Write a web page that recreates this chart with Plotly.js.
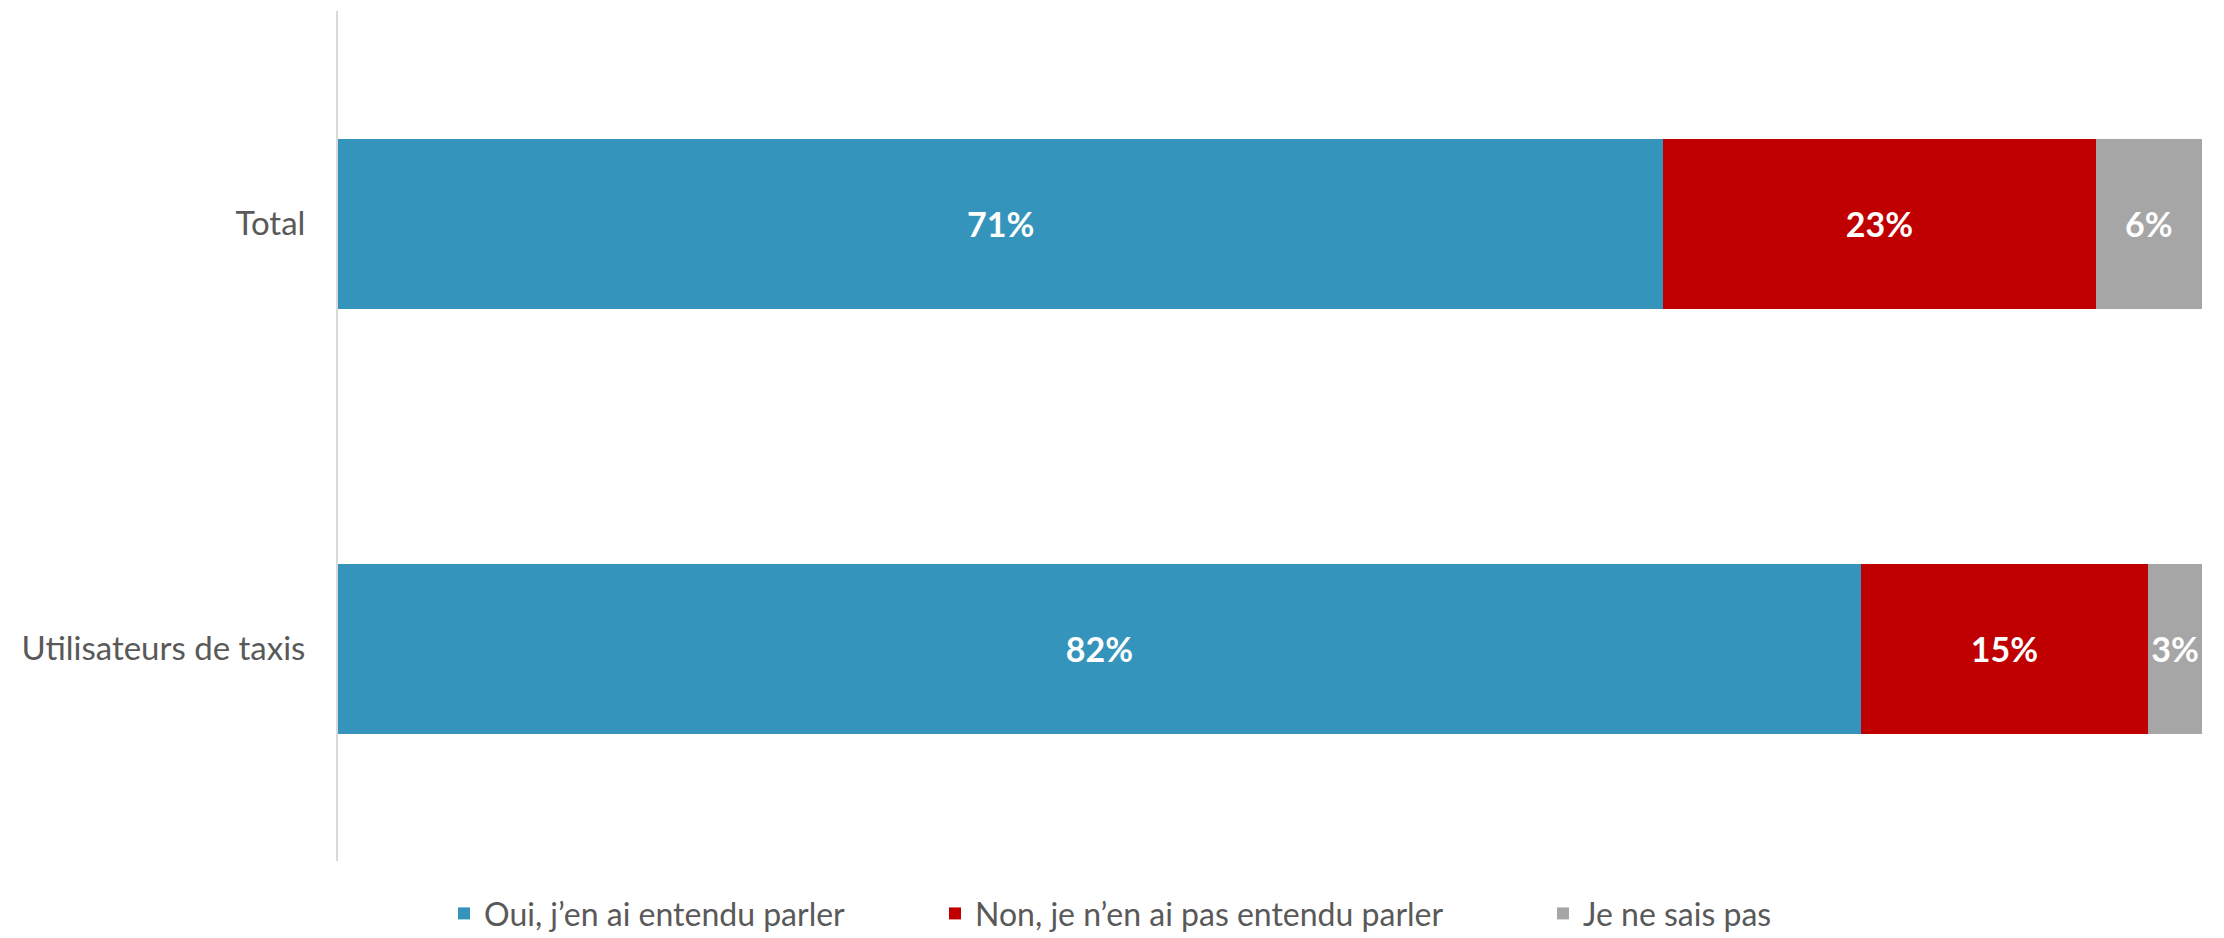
<!DOCTYPE html>
<html>
<head>
<meta charset="utf-8">
<script src="https://cdn.plot.ly/plotly-3.0.1.min.js"></script>
<style>html,body{margin:0;padding:0;background:#fff;}#chart{width:2224px;height:938px;}</style>
</head>
<body>
<div id="chart"></div>
<script>
const categories = ["Total", "Utilisateurs de taxis"];
const seriesNames = ["Oui, j\u2019en ai entendu parler", "Non, je n\u2019en ai pas entendu parler", "Je ne sais pas"];
const oui = [71.1, 81.7];
const non = [23.2, 15.4];
const nsp = [5.7, 2.9];
const colors = ["#3594BC", "#C00000", "#A6A6A6"];

const FONT = "Lato, 'Noto Sans', sans-serif";
const W = 2224, H = 938;
const legendIds = ["legend", "legend2", "legend3"];
const legendLeft = [444, 935, 1543];

const allSeries = [oui, non, nsp];
const traces = allSeries.map((vals, i) => ({
  type: "bar",
  orientation: "h",
  name: seriesNames[i],
  legend: legendIds[i],
  y: categories,
  x: vals,
  marker: {color: colors[i]},
  texttemplate: "%{x:.0f}%",
  textposition: "inside",
  insidetextanchor: "middle",
  textangle: 0,
  insidetextfont: {color: "#FFFFFF", size: 34, family: FONT, weight: "bold"},
  hoverinfo: "skip"
}));

const layout = {
  width: W,
  height: H,
  barmode: "stack",
  bargap: 0.6,
  margin: {l: 338, r: 22, t: 11, b: 77, pad: 0},
  paper_bgcolor: "#FFFFFF",
  plot_bgcolor: "#FFFFFF",
  showlegend: true,
  uniformtext: {minsize: 34, mode: "show"},
  xaxis: {range: [0, 100], visible: false, fixedrange: true},
  yaxis: {
    autorange: "reversed",
    showline: true,
    linecolor: "#D9D9D9",
    linewidth: 2,
    showgrid: false,
    zeroline: false,
    ticks: "",
    ticklabelstandoff: 24,
    tickfont: {family: FONT, size: 33, color: "#595959"}
  }
};

legendIds.forEach((id, i) => {
  layout[id] = {
    orientation: "h",
    xref: "container",
    yref: "container",
    x: legendLeft[i] / W,
    xanchor: "left",
    y: 0.026,
    yanchor: "middle",
    bgcolor: "rgba(0,0,0,0)",
    font: {family: FONT, size: 32, color: "#595959"},
    itemclick: false,
    itemdoubleclick: false
  };
});

Plotly.newPlot("chart", traces, layout, {displayModeBar: false, staticPlot: true});
</script>
</body>
</html>
